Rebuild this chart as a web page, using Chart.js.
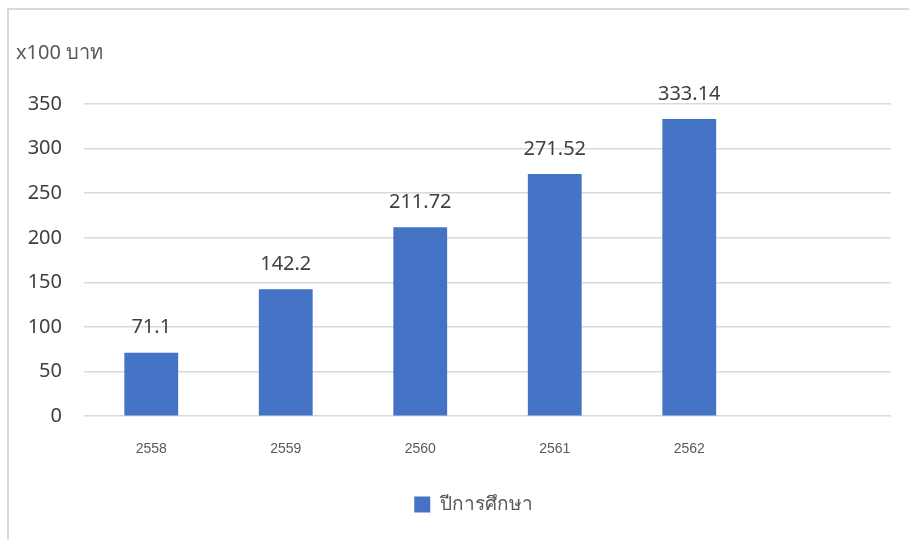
<!DOCTYPE html>
<html lang="th">
<head>
<meta charset="UTF-8">
<title>chart</title>
<script src="https://cdn.jsdelivr.net/npm/chart.js"></script>
<style>
  html, body { margin: 0; padding: 0; background: #fff; }
  #wrap { width: 909px; height: 540px; position: relative; }
</style>
</head>
<body>
<div id="wrap"><canvas id="myChart"></canvas></div>
<script>
// ข้อมูล
const years = ['2558', '2559', '2560', '2561', '2562', ''];
const amounts = [71.1, 142.2, 211.72, 271.52, 333.14, null];
const yTicks = [0, 50, 100, 150, 200, 250, 300, 350];
const seriesName = 'ปีการศึกษา';
const unitTitle = 'x100 บาท';

const barColor = '#4472C4';
const fontFam = "'Noto Sans', 'Segoe UI', sans-serif";

// กรอบรอบกราฟ
const frame = {
  id: 'frame',
  beforeDraw(chart) {
    const c = chart.ctx;
    c.save();
    c.strokeStyle = '#d9d9d9';
    c.lineWidth = 2;
    c.beginPath();
    c.moveTo(8, chart.height);
    c.lineTo(8, 9);
    c.lineTo(chart.width, 9);
    c.stroke();
    c.restore();
  }
};

// เลื่อน legend ไปทางขวาเล็กน้อย
const legendShift = {
  id: 'legendShift',
  afterLayout(chart) {
    if (!chart.legend) return;
    chart.legend.left += 20;
    chart.legend.right += 20;
  }
};

// ตัวเลขบนแท่ง
const valueLabels = {
  id: 'valueLabels',
  afterDatasetsDraw(chart) {
    const c = chart.ctx;
    const meta = chart.getDatasetMeta(0);
    c.save();
    c.font = '20px ' + fontFam;
    c.fillStyle = '#404040';
    c.textAlign = 'center';
    c.textBaseline = 'middle';
    meta.data.forEach((bar, i) => {
      const v = chart.data.datasets[0].data[i];
      if (v == null) return;
      c.fillText(String(v), bar.x, bar.y - 25);
    });
    c.restore();
  }
};

const ctx = document.querySelector('#myChart').getContext('2d');
new Chart(ctx, {
  type: 'bar',
  data: {
    labels: years,
    datasets: [{
      label: seriesName,
      data: amounts,
      backgroundColor: barColor,
      barPercentage: 0.4,
      categoryPercentage: 1.0
    }]
  },
  options: {
    responsive: true,
    maintainAspectRatio: false,
    animation: false,
    layout: { padding: { left: 16, right: 18, top: 0, bottom: 16 } },
    plugins: {
      title: {
        display: true,
        text: unitTitle,
        align: 'start',
        color: '#595959',
        font: { size: 20, family: fontFam, weight: 'normal' },
        padding: { top: 41, bottom: 39 }
      },
      legend: {
        position: 'bottom',
        labels: {
          color: '#595959',
          font: { size: 19, family: fontFam },
          boxWidth: 16,
          boxHeight: 16,
          padding: 12
        }
      },
      tooltip: { enabled: false }
    },
    scales: {
      x: {
        grid: { display: false, drawTicks: false },
        border: { display: false },
        ticks: {
          color: '#595959',
          font: { size: 14, family: "'Liberation Sans', Arial, sans-serif" },
          padding: 25,
          maxRotation: 0
        }
      },
      y: {
        min: 0,
        max: 350,
        afterFit(axis) { axis.width = 68; },
        afterBuildTicks(axis) { axis.ticks = yTicks.map(v => ({ value: v })); },
        grid: { color: '#d9d9d9', lineWidth: 1.5, drawTicks: false },
        border: { display: false },
        ticks: {
          color: '#404040',
          font: { size: 20, family: fontFam },
          padding: 22
        }
      }
    }
  },
  plugins: [frame, legendShift, valueLabels]
});
</script>
</body>
</html>
